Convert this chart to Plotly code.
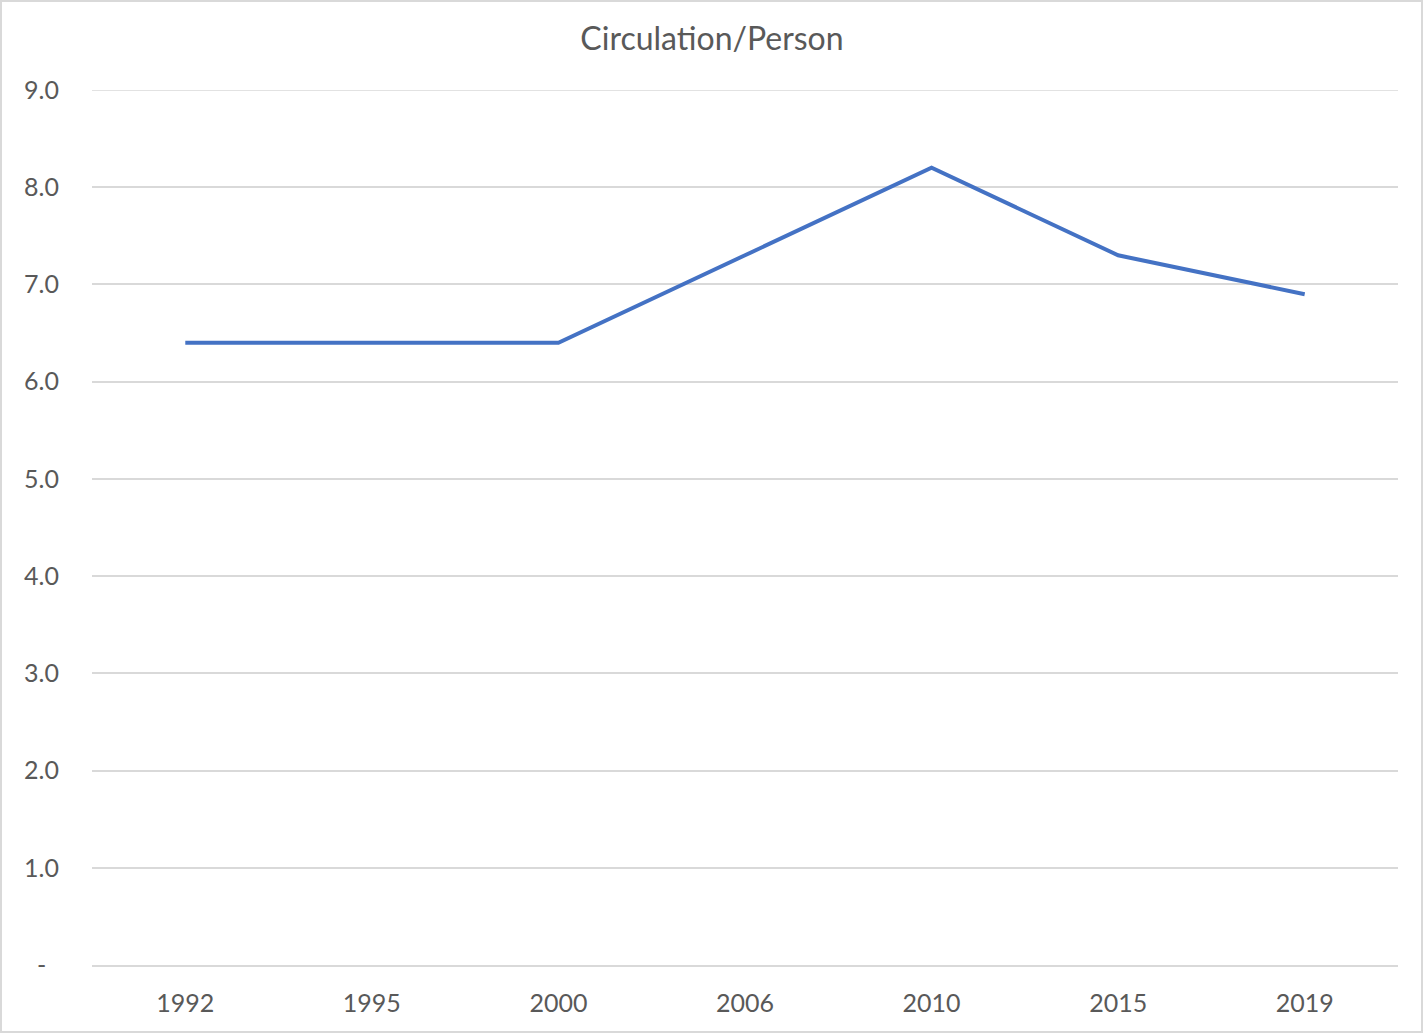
import plotly.graph_objects as go

years = ["1992", "1995", "2000", "2006", "2010", "2015", "2019"]
circulation_per_person = [6.4, 6.4, 6.4, 7.3, 8.2, 7.3, 6.9]
y_tick_values = [0, 1, 2, 3, 4, 5, 6, 7, 8, 9]
y_tick_labels = ["-\u00a0\u00a0", "1.0", "2.0", "3.0", "4.0", "5.0", "6.0", "7.0", "8.0", "9.0"]
y_max = 9

W, H = 1424, 1034
L, R, T, B = 92, 26, 90, 69
pw, ph = W - L - R, H - T - B

fig = go.Figure()
fig.add_trace(go.Scatter(
    x=years, y=circulation_per_person, mode="lines",
    line=dict(color="#4472C4", width=4), showlegend=False,
))

font_family = "Lato, 'Open Sans', sans-serif"
fig.update_layout(
    width=W, height=H,
    margin=dict(l=L, r=R, t=T, b=B),
    paper_bgcolor="white", plot_bgcolor="white",
    title=dict(text="Circulation/Person", x=0.5, xanchor="center",
               y=1 - 39 / H, yanchor="middle", yref="container",
               font=dict(family=font_family, size=32, color="#595959")),
    font=dict(family=font_family, color="#595959"),
    xaxis=dict(type="category", range=[-0.5, 6.5], showgrid=False,
               showline=True, linecolor="#d9d9d9", linewidth=1.5,
               ticks="", tickfont=dict(size=25, color="#595959"),
               ticklabelstandoff=15, zeroline=False, fixedrange=True),
    yaxis=dict(range=[0, y_max], tickvals=y_tick_values, ticktext=y_tick_labels,
               showgrid=True, gridcolor="#d9d9d9", gridwidth=1.5,
               showline=False, zeroline=False, ticks="",
               tickfont=dict(size=25, color="#595959"),
               ticklabelstandoff=32, fixedrange=True),
    shapes=[
        dict(type="rect", xref="paper", yref="paper",
             x0=(1 - L) / pw, x1=(W - 2 - L) / pw,
             y0=-(B - 2) / ph, y1=(H - 1 - B) / ph,
             line=dict(color="#d9d9d9", width=2), layer="below"),
        dict(type="line", xref="paper", yref="y", x0=0, x1=1, y0=y_max, y1=y_max,
             line=dict(color="#d9d9d9", width=1.5), layer="below"),
    ],
)

fig.write_html("out.html", config={"displayModeBar": False},
               post_script="document.body.style.margin='0';document.body.style.overflow='hidden';")
